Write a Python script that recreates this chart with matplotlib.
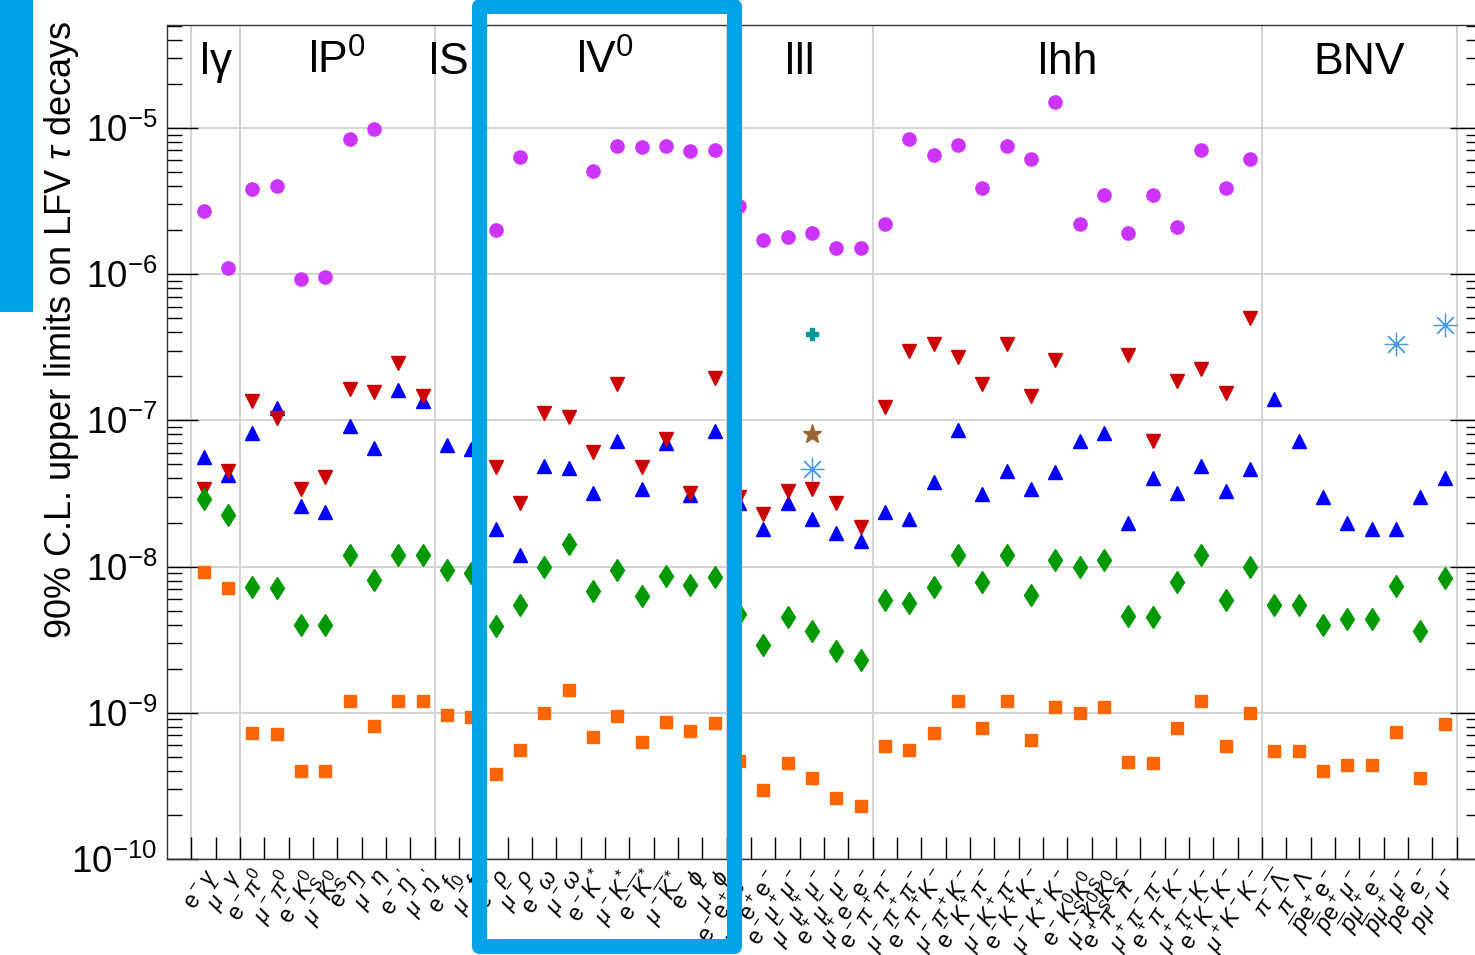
import numpy as np
import matplotlib
matplotlib.use("Agg")
import matplotlib.pyplot as plt
from matplotlib.patches import Rectangle
from matplotlib.ticker import FixedLocator, NullFormatter, LogFormatterSciNotation

plt.rcParams['font.family'] = ['Liberation Sans', 'DejaVu Sans']
plt.rcParams['mathtext.fontset'] = 'custom'
plt.rcParams['mathtext.rm'] = 'Liberation Sans'
plt.rcParams['mathtext.it'] = 'Liberation Sans:italic'
plt.rcParams['mathtext.bf'] = 'Liberation Sans:bold'

nan = np.nan

# decay-mode groups
groups = ["lγ", "lP$^0$", "lS", "lV$^0$", "lll", "lhh", "BNV"]
group_sizes = [2, 8, 2, 10, 6, 16, 8]

channels = [
    r"$\mathrm{e}^-\gamma$", r"$\mu^-\gamma$",
    r"$\mathrm{e}^-\pi^0$", r"$\mu^-\pi^0$", r"$\mathrm{e}^-K^0_S$", r"$\mu^-K^0_S$",
    r"$\mathrm{e}^-\eta$", r"$\mu^-\eta$", r"$\mathrm{e}^-\eta'$", r"$\mu^-\eta'$",
    r"$\mathrm{e}^-f_0$", r"$\mu^-f_0$",
    r"$\mathrm{e}^-\rho$", r"$\mu^-\rho$", r"$\mathrm{e}^-\omega$", r"$\mu^-\omega$",
    r"$\mathrm{e}^-K^*$", r"$\mu^-K^*$", r"$\mathrm{e}^-\overline{K}^*$", r"$\mu^-\overline{K}^*$",
    r"$\mathrm{e}^-\phi$", r"$\mu^-\phi$",
    r"$\mathrm{e}^-\mathrm{e}^+\mathrm{e}^-$", r"$\mu^-\mathrm{e}^+\mathrm{e}^-$", r"$\mathrm{e}^-\mu^+\mu^-$",
    r"$\mu^-\mu^+\mu^-$", r"$\mathrm{e}^+\mu^-\mu^-$", r"$\mu^+\mathrm{e}^-\mathrm{e}^-$",
    r"$\mathrm{e}^-\pi^+\pi^-$", r"$\mu^-\pi^+\pi^-$", r"$\mathrm{e}^-\pi^+K^-$", r"$\mu^-\pi^+K^-$",
    r"$\mathrm{e}^-K^+\pi^-$", r"$\mu^-K^+\pi^-$", r"$\mathrm{e}^-K^+K^-$", r"$\mu^-K^+K^-$",
    r"$\mathrm{e}^-K^0_SK^0_S$", r"$\mu^-K^0_SK^0_S$", r"$\mathrm{e}^+\pi^-\pi^-$", r"$\mu^+\pi^-\pi^-$",
    r"$\mathrm{e}^+\pi^-K^-$", r"$\mu^+\pi^-K^-$", r"$\mathrm{e}^+K^-K^-$", r"$\mu^+K^-K^-$",
    r"$\pi^-\overline{\Lambda}$", r"$\pi^-\Lambda$", r"$\overline{p}\mathrm{e}^+\mathrm{e}^-$",
    r"$\overline{p}\mathrm{e}^+\mu^-$", r"$\overline{p}\mu^+\mathrm{e}^-$", r"$\overline{p}\mu^+\mu^-$",
    r"$p\mathrm{e}^-\mathrm{e}^-$", r"$p\mu^-\mu^-$",
]

# upper limits, one value per channel (nan = no limit shown)
lim_circle = [2.7e-6, 1.1e-6,
              3.8e-6, 4.0e-6, 9.2e-7, 9.6e-7, 8.4e-6, 9.8e-6, nan, nan,
              nan, nan,
              2.0e-6, 6.3e-6, nan, nan, 5.1e-6, 7.5e-6, 7.4e-6, 7.5e-6, 6.9e-6, 7.0e-6,
              2.9e-6, 1.7e-6, 1.8e-6, 1.9e-6, 1.5e-6, 1.5e-6,
              2.2e-6, 8.4e-6, 6.5e-6, 7.6e-6, 3.9e-6, 7.5e-6, 6.1e-6, 1.5e-5,
              2.2e-6, 3.5e-6, 1.9e-6, 3.5e-6, 2.1e-6, 7.0e-6, 3.9e-6, 6.1e-6,
              nan, nan, nan, nan, nan, nan, nan, nan]
lim_down = [3.4e-8, 4.5e-8,
            1.36e-7, 1.04e-7, 3.4e-8, 4.1e-8, 1.65e-7, 1.55e-7, 2.45e-7, 1.46e-7,
            nan, nan,
            4.8e-8, 2.7e-8, 1.12e-7, 1.05e-7, 6.1e-8, 1.77e-7, 4.8e-8, 7.5e-8, 3.2e-8, 1.95e-7,
            3.0e-8, 2.3e-8, 3.3e-8, 3.4e-8, 2.7e-8, 1.87e-8,
            1.23e-7, 2.98e-7, 3.3e-7, 2.7e-7, 1.76e-7, 3.3e-7, 1.46e-7, 2.6e-7,
            nan, nan, 2.8e-7, 7.2e-8, 1.85e-7, 2.25e-7, 1.54e-7, 5.0e-7,
            nan, nan, nan, nan, nan, nan, nan, nan]
lim_up = [5.6e-8, 4.2e-8,
          8.2e-8, 1.21e-7, 2.6e-8, 2.35e-8, 9.2e-8, 6.5e-8, 1.6e-7, 1.35e-7,
          6.8e-8, 6.4e-8,
          1.8e-8, 1.2e-8, 4.9e-8, 4.7e-8, 3.2e-8, 7.2e-8, 3.4e-8, 7.0e-8, 3.1e-8, 8.4e-8,
          2.7e-8, 1.8e-8, 2.7e-8, 2.1e-8, 1.7e-8, 1.5e-8,
          2.35e-8, 2.1e-8, 3.76e-8, 8.6e-8, 3.13e-8, 4.5e-8, 3.4e-8, 4.4e-8,
          7.2e-8, 8.2e-8, 2.0e-8, 4.0e-8, 3.2e-8, 4.9e-8, 3.3e-8, 4.65e-8,
          1.4e-7, 7.2e-8, 3.0e-8, 2.0e-8, 1.8e-8, 1.8e-8, 3.0e-8, 4.0e-8]
lim_diamond = [2.9e-8, 2.24e-8,
               7.3e-9, 7.1e-9, 4.0e-9, 4.0e-9, 1.2e-8, 8.1e-9, 1.2e-8, 1.2e-8,
               9.5e-9, 9.1e-9,
               3.9e-9, 5.5e-9, 1.0e-8, 1.43e-8, 6.8e-9, 9.5e-9, 6.3e-9, 8.6e-9, 7.5e-9, 8.5e-9,
               4.7e-9, 2.9e-9, 4.5e-9, 3.6e-9, 2.65e-9, 2.3e-9,
               5.9e-9, 5.6e-9, 7.2e-9, 1.2e-8, 7.8e-9, 1.2e-8, 6.4e-9, 1.1e-8,
               1.0e-8, 1.1e-8, 4.6e-9, 4.5e-9, 7.8e-9, 1.2e-8, 5.9e-9, 9.9e-9,
               5.5e-9, 5.5e-9, 4.0e-9, 4.4e-9, 4.4e-9, 7.4e-9, 3.6e-9, 8.4e-9]
lim_square = [9.2e-9, 7.1e-9,
              7.3e-10, 7.2e-10, 4.0e-10, 4.0e-10, 1.21e-9, 8.1e-10, 1.21e-9, 1.21e-9,
              9.6e-10, 9.4e-10,
              3.8e-10, 5.6e-10, 1.0e-9, 1.43e-9, 6.8e-10, 9.5e-10, 6.3e-10, 8.6e-10, 7.5e-10, 8.5e-10,
              4.7e-10, 2.95e-10, 4.5e-10, 3.6e-10, 2.6e-10, 2.3e-10,
              5.9e-10, 5.6e-10, 7.3e-10, 1.2e-9, 7.9e-10, 1.2e-9, 6.5e-10, 1.1e-9,
              1.0e-9, 1.1e-9, 4.6e-10, 4.5e-10, 7.9e-10, 1.2e-9, 5.9e-10, 1.0e-9,
              5.5e-10, 5.5e-10, 4.0e-10, 4.4e-10, 4.4e-10, 7.4e-10, 3.6e-10, 8.4e-10]

# a few extra limits on single channels
cross_idx, cross_val = [25], [3.88e-7]
star_idx, star_val = [25], [8.07e-8]
aster_idx, aster_val = [25, 49, 51], [4.68e-8, 3.33e-7, 4.5e-7]

W, H = 1475, 955
fig = plt.figure(figsize=(W / 100, H / 100), dpi=100)
ax = fig.add_axes([167 / W, 1 - 859 / H, (1481 - 167) / W, (859 - 25) / H])

x = np.arange(len(channels))
ax.plot(x, lim_up, ls='none', marker='^', ms=9.5, color='#0000ff', mec='#0000ff')
ax.plot(x, lim_down, ls='none', marker='v', ms=9.5, color='#cc0000', mec='#cc0000')
ax.plot(x, lim_diamond, ls='none', marker='d', ms=11.5, color='#009900', mec='#009900')
ax.plot(x, lim_square, ls='none', marker='s', ms=8, color='#ff6600', mec='#ff6600')
ax.plot(x, lim_circle, ls='none', marker='o', ms=9.5, color='#cc33ff', mec='#cc33ff')
ax.plot(cross_idx, cross_val, ls='none', marker='P', ms=9, color='#009999', mec='#009999')
ax.plot(star_idx, star_val, ls='none', marker='*', ms=14, color='#996633', mec='#996633')
ax.plot(aster_idx, aster_val, ls='none', marker=(8, 2, 0), ms=17, mew=0.9, color='#4a9ae8')

ax.set_yscale('log')
ax.set_ylim(1e-10, 5.05e-5)
ax.set_xlim(-1.5, len(channels) + 0.5)

# grid: decades and group boundaries
bounds = np.concatenate([[0], np.cumsum(group_sizes)]) - 0.5
decades = 10.0 ** np.arange(-10, -4)
for b in bounds:
    ax.axvline(b, color='#d4d4d4', lw=1.5, zorder=0)
for d in decades:
    ax.axhline(d, color='#d4d4d4', lw=1.5, zorder=0)

ax.set_xticks(x)
ax.set_xticklabels(channels, rotation=57, ha='right', va='top', rotation_mode='anchor', fontsize=16.5)
ax.xaxis.set_minor_locator(FixedLocator(bounds[0] + np.arange(len(channels) + 1)))
ax.tick_params(axis='x', which='major', length=0, pad=5)
ax.tick_params(axis='x', which='minor', direction='in', length=16, width=1, top=False)

minors = np.concatenate([d * np.arange(2, 10) for d in 10.0 ** np.arange(-10, -4)])
ax.yaxis.set_major_locator(FixedLocator(decades))
ax.yaxis.set_minor_locator(FixedLocator(minors[minors < 5.05e-5]))
ax.yaxis.set_major_formatter(LogFormatterSciNotation())
ax.yaxis.set_minor_formatter(NullFormatter())
ax.tick_params(axis='y', which='major', direction='in', length=22, width=1,
               left=True, right=True, labelsize=26.5, pad=7)
ax.tick_params(axis='y', which='minor', direction='in', length=11, width=1,
               left=True, right=True)
for sp in ax.spines.values():
    sp.set_linewidth(1)
    sp.set_color('#333333')

# group titles
starts = np.concatenate([[0], np.cumsum(group_sizes)[:-1]])
for g, s, n in zip(groups, starts, group_sizes):
    xc = s + (n - 1) / 2
    if g == "lS":
        xc -= 0.4
    ax.text(xc, 1 - (74 - 25) / (859 - 25), g, transform=ax.get_xaxis_transform(),
            ha='center', va='baseline', fontsize=32)

fig.text(62 / W, 1 - 20 / H, "90% C.L. upper limits on LFV $\\tau$ decays",
         rotation=90, ha='center', va='top', fontsize=26)

# highlight overlays
box_blue = '#00a3e8'
lw_px = 15
fig.add_artist(Rectangle((479 / W, 1 - 946 / H), (733.5 - 479) / W, (946 - 6) / H,
                         transform=fig.transFigure, fill=False, ec=box_blue,
                         lw=lw_px * 0.72, joinstyle='round', clip_on=False))
fig.add_artist(Rectangle((0, 1 - 312 / H), 33 / W, 312 / H, transform=fig.transFigure,
                         fc=box_blue, ec='none', clip_on=False))

fig.savefig('out.png', dpi=100)
